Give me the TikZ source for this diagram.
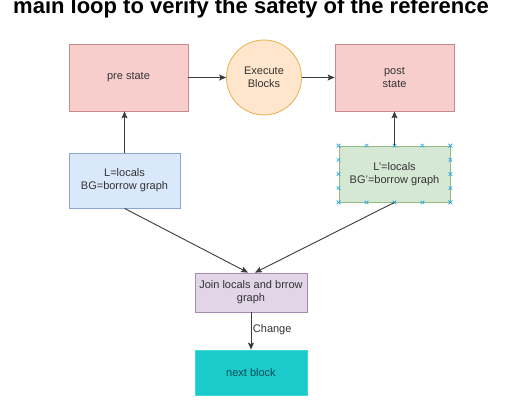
\documentclass[tikz,border=0pt]{standalone}
\usepackage{fontspec}
\setmainfont{Liberation Sans}
\usetikzlibrary{calc,arrows.meta}
\definecolor{txt}{HTML}{333333}
\definecolor{pinkF}{HTML}{F8CECC}\definecolor{pinkD}{HTML}{C98B88}
\definecolor{orF}{HTML}{FFE6CC}\definecolor{orD}{HTML}{E3B04B}
\definecolor{blF}{HTML}{DAE8FC}\definecolor{blD}{HTML}{8AA6CF}
\definecolor{grF}{HTML}{D5E8D4}\definecolor{grD}{HTML}{94BB82}
\definecolor{puF}{HTML}{E1D5E7}\definecolor{puD}{HTML}{A58CB3}
\definecolor{cyF}{HTML}{1BCBCB}\definecolor{cyD}{HTML}{3FD9D9}
\definecolor{cyT}{HTML}{0B4A55}
\definecolor{selc}{HTML}{29A8E8}
\definecolor{lin}{HTML}{3A3A3A}
\tikzset{
  box/.style={draw, line width=0.8pt, align=center, inner sep=0pt, text=txt,
    font=\fontsize{11}{13}\selectfont},
  conn/.style={lin, line width=0.9pt, -{Stealth[length=7pt,width=6pt,inset=1.5pt]}},
  handle/.style={selc, line width=0.6pt},
  pics/hx/.style={code={\draw[handle] (-1.8,-1.8) -- (1.8,1.8) (-1.8,1.8) -- (1.8,-1.8);}}
}
\begin{document}
\begin{tikzpicture}[x=1pt,y=-1pt]
\useasboundingbox (0,0) rectangle (520,400);
\node[anchor=base, font=\bfseries\fontsize{22}{26}\selectfont, text=black] (title) at (251,13) {main loop to verify the safety of the reference};
\node[box, fill=pinkF, draw=pinkD, minimum width=119pt, minimum height=67pt] (pre) at (128.5,77.5) {pre state};
\node[box, circle, fill=orF, draw=orD, minimum size=75pt] (exec) at (264,77.5) {Execute\\Blocks};
\node[box, fill=pinkF, draw=pinkD, minimum width=119pt, minimum height=67pt] (post) at (394.5,77.5) {post\\state};
\node[box, fill=blF, draw=blD, minimum width=111pt, minimum height=55pt] (L) at (124.5,180.5) {L=locals\\BG=borrow graph};
\node[box, fill=grF, draw=grD, minimum width=111pt, minimum height=56pt] (G) at (394.5,174) {L'=locals\\BG'=borrow graph};
\node[box, fill=puF, draw=puD, minimum width=112pt, minimum height=39pt] (join) at (251,292.5) {Join locals and brrow\\graph};
\node[box, fill=cyF, draw=cyD, text=cyT, minimum width=112pt, minimum height=45pt] (next) at (251,372.5) {next block};
% selection handles on the green box
\foreach \f in {0,0.25,0.5,0.75,1}{
  \path ($(G.north west)!\f!(G.north east)$) pic {hx};
  \path ($(G.south west)!\f!(G.south east)$) pic {hx};
  \path ($(G.north west)!\f!(G.south west)$) pic {hx};
  \path ($(G.north east)!\f!(G.south east)$) pic {hx};
}
\draw[conn] (pre.east) -- (exec.west);
\draw[conn] (exec.east) -- (post.west);
\draw[conn] (L.north) -- (L.north |- pre.south);
\draw[conn] (G.north) -- (G.north |- post.south);
\draw[conn] (L.south) -- ([xshift=-3pt]join.north);
\draw[conn] (G.south) -- ([xshift=4pt]join.north);
\draw[conn] (join.south) -- node[right, text=txt, font=\fontsize{11}{13}\selectfont, inner sep=1.5pt, yshift=1pt] (chg) {Change} (next.north);
\end{tikzpicture}
\end{document}
